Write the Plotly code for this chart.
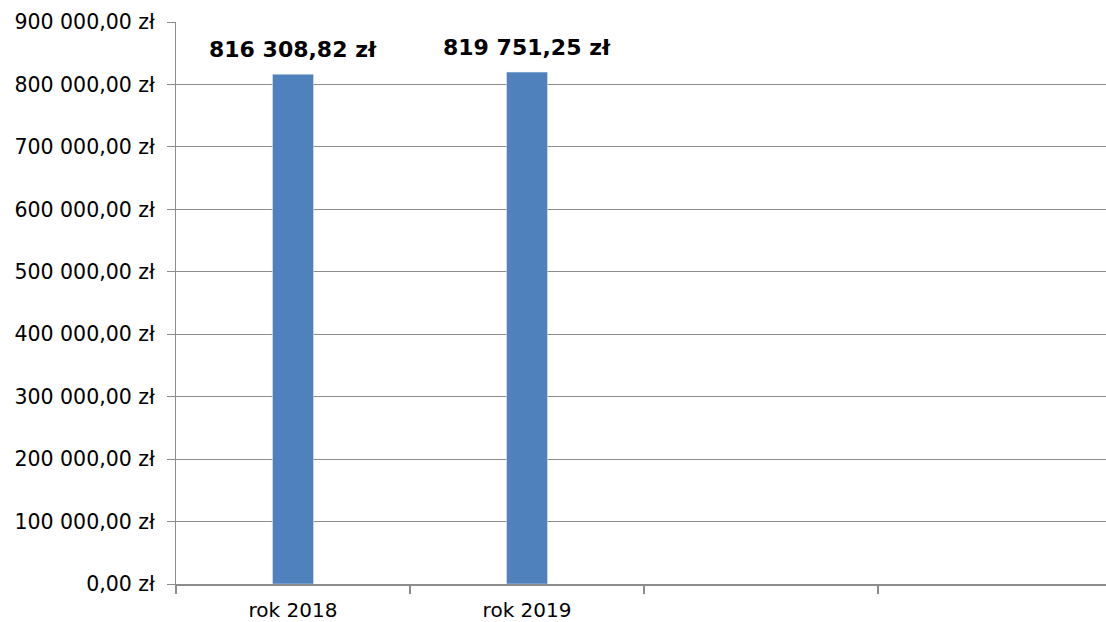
import plotly.graph_objects as go

categories = ["rok 2018", "rok 2019", " ", "  "]
values = [816308.82, 819751.25, None, None]
value_labels = ["816 308,82 zł", "819 751,25 zł"]
y_tickvals = [0, 100000, 200000, 300000, 400000, 500000, 600000, 700000, 800000, 900000]
y_ticktext = ["0,00 zł", "100 000,00 zł", "200 000,00 zł", "300 000,00 zł", "400 000,00 zł",
              "500 000,00 zł", "600 000,00 zł", "700 000,00 zł", "800 000,00 zł", "900 000,00 zł"]

FONT = "'DejaVu Sans', sans-serif"
GRID = "#8c8c8c"

fig = go.Figure()
fig.add_trace(go.Bar(x=categories, y=values, marker_color="#4F81BD", width=0.175,
                     hoverinfo="skip"))

for c, v, t in zip(categories, values, value_labels):
    fig.add_annotation(x=c, y=v, text="<b>%s</b>" % t, showarrow=False,
                       yanchor="bottom", yshift=10,
                       font=dict(family=FONT, size=22, color="black"))

fig.update_layout(
    width=1106, height=622,
    margin=dict(l=176, r=0, t=22, b=38),
    plot_bgcolor="white", paper_bgcolor="white",
    showlegend=False,
    font=dict(family=FONT, size=20, color="black"),
)
fig.update_xaxes(
    type="category", categoryorder="array", categoryarray=categories,
    range=[-0.5, 3.474], tickson="boundaries", ticks="outside", ticklen=8,
    tickcolor=GRID, tickwidth=2, showline=True, linecolor=GRID, linewidth=2,
    showgrid=False, tickfont=dict(family=FONT, size=20, color="black"),
    ticklabelstandoff=7, automargin=False,
)
fig.update_yaxes(
    range=[0, 900000], tickvals=y_tickvals, ticktext=y_ticktext,
    ticks="outside", ticklen=8, tickcolor=GRID, tickwidth=1,
    showline=True, linecolor=GRID, linewidth=1, showgrid=True,
    gridcolor=GRID, gridwidth=1, zeroline=False, ticklabelstandoff=8,
    tickfont=dict(family=FONT, size=20.5, color="black"),
    automargin=False,
)

fig.write_html(
    "out.html",
    config={"displayModeBar": False},
    post_script="document.body.style.margin='0px';document.body.style.overflow='hidden';",
)
